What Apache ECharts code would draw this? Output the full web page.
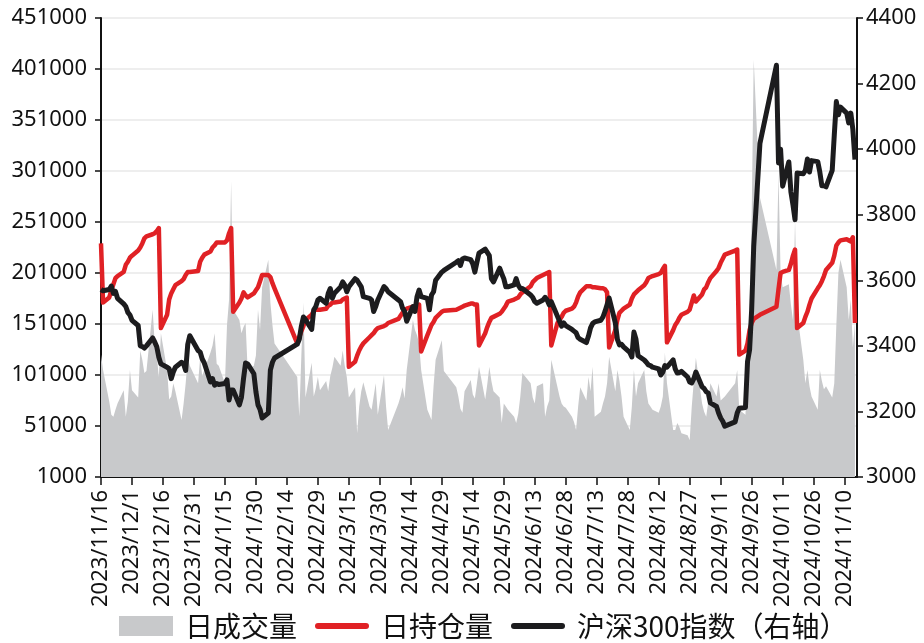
<!DOCTYPE html>
<html><head><meta charset="utf-8">
<script src="https://cdn.jsdelivr.net/npm/echarts/dist/echarts.min.js"></script>
<style>html,body{margin:0;padding:0;background:#fff}#chart{width:924px;height:643px}</style>
</head><body><div id="chart"></div>
<script>
// ---- axis ranges / labels ----
const axisStart = '2023/11/16';
const axisEnd = '2024/11/16';
const lastTradeDay = '2024/11/15';
const labelEvery = 15; // days between date labels
const leftAxis = { min: 1000, max: 451000, interval: 50000 };
const rightAxis = { min: 3000, max: 4400, interval: 200 };
const seriesNames = ['日成交量', '日持仓量', '沪深300指数（右轴）'];
// exchange holidays on weekdays
const holidays = ['2024/1/1','2024/2/9','2024/2/12','2024/2/13','2024/2/14','2024/2/15','2024/2/16',
  '2024/4/4','2024/4/5','2024/5/1','2024/5/2','2024/5/3','2024/6/10','2024/9/16','2024/9/17',
  '2024/10/1','2024/10/2','2024/10/3','2024/10/4','2024/10/7'];

// ---- daily volume (one value per trading day) ----
const volume = [
  121000,106000,75000,62000,60000,67000,73000,86000,60000,75000,106000,
  86000,79000,125000,116000,103000,105000,165000,132000,120000,99000,142000,106000,77000,80000,93000,85000,57000,73000,93000,118000,110000,
  93000,118000,100000,106000,123000,130000,142000,112000,110000,93000,150000,175000,291000,165000,155000,142000,148000,152000,106000,110000,120000,165000,
  145000,187000,214000,172000,150000,132000,99000,60000,120000,172000,79000,113000,80000,88000,99000,
  86000,95000,85000,100000,108000,119000,110000,125000,110000,99000,79000,89000,44000,70000,85000,94000,70000,67000,80000,93000,62000,
  101000,70000,47000,73000,80000,89000,78000,106000,155000,145000,140000,132000,106000,67000,62000,57000,90000,116000,135000,105000,
  89000,80000,68000,64000,85000,96000,82000,78000,93000,109000,77000,92000,109000,95000,85000,79000,54000,73000,70000,67000,
  60000,54000,63000,80000,103000,93000,79000,73000,90000,93000,60000,70000,76000,116000,89000,80000,73000,70000,69000,
  60000,55000,47000,70000,89000,76000,99000,85000,109000,60000,65000,73000,80000,93000,119000,85000,106000,95000,80000,60000,47000,70000,106000,
  80000,93000,106000,85000,73000,70000,67000,64000,70000,80000,123000,93000,47000,47000,54000,50000,44000,42000,37000,70000,95000,118000,
  73000,65000,60000,75000,93000,80000,93000,76000,78000,80000,93000,106000,67000,62000,110000,160000,255000,410000,275000,
  204000,298000,201000,187000,190000,170000,155000,253000,162000,116000,93000,106000,90000,80000,67000,106000,95000,87000,
  90000,79000,93000,150000,201000,214000,187000,155000,175000,128000,152000
];

// ---- daily open interest ----
const openInterest = [
  230000,172000,177000,184000,190000,196000,198000,202000,209000,212000,216000,
  218000,223000,226000,230000,235000,237000,239000,240000,242000,245000,147000,160000,175000,181000,185000,189000,193000,195000,199000,202000,202000,
  203000,212000,216000,219000,222000,226000,228000,231000,231000,231000,233000,240000,245000,163000,172000,176000,182000,179000,177000,181000,184000,187000,
  193000,199000,199000,197000,191000,186000,132000,138000,144000,149000,155000,160000,164000,165000,165000,
  165000,166000,169000,170000,172000,172000,173000,175000,176000,177000,109000,114000,120000,125000,129000,132000,138000,140000,142000,145000,147000,
  149000,150000,152000,156000,159000,162000,165000,166000,168000,168000,168000,170000,124000,140000,145000,150000,153000,157000,163000,164000,
  165000,166000,167000,168000,169000,171000,171000,170000,170000,130000,142000,148000,153000,157000,158000,161000,163000,166000,169000,173000,
  175000,176000,177000,180000,182000,188000,192000,194000,196000,199000,200000,201000,202000,130000,152000,155000,158000,162000,164000,
  166000,168000,172000,178000,182000,188000,188000,188000,187000,187000,186000,186000,185000,182000,128000,145000,155000,162000,164000,166000,170000,176000,180000,
  182000,184000,189000,192000,196000,197000,198000,200000,201000,205000,208000,133000,145000,150000,153000,157000,160000,163000,165000,172000,179000,173000,
  180000,185000,187000,192000,196000,203000,206000,211000,215000,219000,223000,224000,121000,125000,132000,145000,152000,156000,160000,
  168000,185000,201000,202000,204000,210000,218000,224000,147000,152000,158000,163000,170000,176000,186000,189000,193000,198000,
  204000,211000,218000,228000,231000,233000,234000,233000,232000,236000,152000
];

// ---- CSI 300 index close (right axis) ----
const csi300 = [
  3572,3568,3572,3582,3560,3566,3545,3528,3520,3502,3494,
  3478,3462,3400,3398,3393,3400,3424,3412,3397,3365,3345,3335,3330,3300,3320,3335,3350,3345,3325,3405,3431,
  3386,3381,3360,3348,3290,3300,3280,3285,3282,3285,3296,3235,3265,3265,3220,3243,3300,3348,3345,3315,3260,3220,
  3206,3180,3195,3326,3350,3363,3405,3420,3460,3488,3480,3450,3510,3520,3540,
  3545,3530,3560,3575,3545,3560,3580,3595,3585,3565,3580,3605,3600,3590,3580,3550,3545,3540,3505,3520,3540,
  3581,3575,3565,3540,3535,3515,3505,3475,3520,3505,3550,3570,3550,3545,3510,3555,3565,3600,3625,3630,
  3655,3660,3645,3665,3668,3663,3650,3625,3655,3683,3695,3685,3675,3605,3595,3637,3620,3605,3580,3580,
  3586,3605,3585,3575,3575,3555,3548,3535,3530,3540,3548,3540,3525,3535,3490,3475,3460,3470,3462,
  3450,3445,3440,3425,3420,3410,3430,3455,3468,3473,3478,3488,3505,3525,3546,3470,3420,3403,3405,3397,3380,3366,3442,
  3420,3370,3357,3350,3342,3340,3335,3330,3311,3320,3340,3335,3357,3330,3317,3318,3322,3305,3290,3287,3300,3320,
  3275,3270,3260,3256,3226,3215,3195,3180,3170,3155,3168,3195,3210,3212,3352,3388,3510,3703,4017,
  4256,3958,4000,3887,3961,3870,3830,3785,3927,3925,3935,3970,3930,3965,3962,3930,3888,3888,
  3885,3935,4043,4145,4105,4128,4110,4080,4110,4060,3968
];

// ---- build calendar axis and map trading days ----
function fmt(d){ return d.getUTCFullYear()+'/'+(d.getUTCMonth()+1)+'/'+d.getUTCDate(); }
function parse(s){ const p=s.split('/').map(Number); return Date.UTC(p[0],p[1]-1,p[2]); }
const categories = [], tradeDays = [];
for (let t=parse(axisStart); t<=parse(axisEnd); t+=86400000){
  const d=new Date(t), s=fmt(d), wd=d.getUTCDay();
  categories.push(s);
  if (t<=parse(lastTradeDay) && wd!==0 && wd!==6 && holidays.indexOf(s)<0) tradeDays.push(s);
}
const dayIndex = {}; tradeDays.forEach((s,i)=>dayIndex[s]=i);
function toSeries(arr){ return categories.map(s => (s in dayIndex && arr[dayIndex[s]]!=null) ? arr[dayIndex[s]] : '-'); }

const FONT = 'Noto Sans';
const CJK = 'Noto Sans CJK SC';
// legend icon for a line: thin bar with round ends inside a 54x20 box
const LINE_ICON = 'path://M0,0 M54,20 M3,7 L51,7 A3,3 0 0 1 51,13 L3,13 A3,3 0 0 1 3,7 Z';
const chart = echarts.init(document.getElementById('chart'), null, {renderer:'canvas'});
chart.setOption({
  animation:false,
  backgroundColor:'#fff',
  grid:{left:101,right:67,top:18,bottom:166,containLabel:false},
  legend:{
    left:119, top:612, padding:0, itemWidth:54, itemHeight:20, itemGap:18,
    data:[{name:seriesNames[0],icon:'rect'},{name:seriesNames[1],icon:LINE_ICON},{name:seriesNames[2],icon:LINE_ICON}],
    textStyle:{fontSize:28,color:'#111',fontFamily:CJK,padding:[0,0,0,7]}
  },
  xAxis:{
    type:'category', data:categories, boundaryGap:false,
    axisLine:{lineStyle:{color:'#111',width:2}},
    axisTick:{show:true,interval:labelEvery-1,length:8,lineStyle:{color:'#111',width:1.5}},
    axisLabel:{interval:labelEvery-1,rotate:90,margin:13,fontSize:22,fontFamily:FONT,color:'#111'},
    splitLine:{show:false}
  },
  yAxis:[
    {type:'value',min:leftAxis.min,max:leftAxis.max,interval:leftAxis.interval,
     axisLine:{show:true,lineStyle:{color:'#111',width:2}},
     axisTick:{show:true,length:6,lineStyle:{color:'#111',width:1.5}},
     axisLabel:{margin:14,fontSize:22,fontFamily:FONT,color:'#111',formatter:v=>String(v)},
     splitLine:{show:true,lineStyle:{color:'#e8e8e8',width:1.5}}},
    {type:'value',position:'right',min:rightAxis.min,max:rightAxis.max,interval:rightAxis.interval,
     axisLine:{show:true,lineStyle:{color:'#111',width:2}},
     axisTick:{show:true,length:6,lineStyle:{color:'#111',width:1.5}},
     axisLabel:{margin:9,fontSize:22,fontFamily:FONT,color:'#111',formatter:v=>String(v)},
     splitLine:{show:false}}
  ],
  series:[
    {name:seriesNames[0],type:'line',yAxisIndex:0,data:toSeries(volume),symbol:'none',connectNulls:true,
     lineStyle:{width:0,color:'#c8c9cb'},itemStyle:{color:'#c8c9cb'},
     areaStyle:{color:'#c8c9cb',opacity:1,origin:'start'},z:1},
    {name:seriesNames[1],type:'line',yAxisIndex:0,data:toSeries(openInterest),symbol:'none',connectNulls:true,
     lineStyle:{width:4.5,color:'#e02125',join:'round'},itemStyle:{color:'#e02125'},z:2},
    {name:seriesNames[2],type:'line',yAxisIndex:1,data:toSeries(csi300),symbol:'none',connectNulls:true,
     lineStyle:{width:5,color:'#1c1c1e',join:'round'},itemStyle:{color:'#1c1c1e'},z:3}
  ]
});
</script></body></html>
